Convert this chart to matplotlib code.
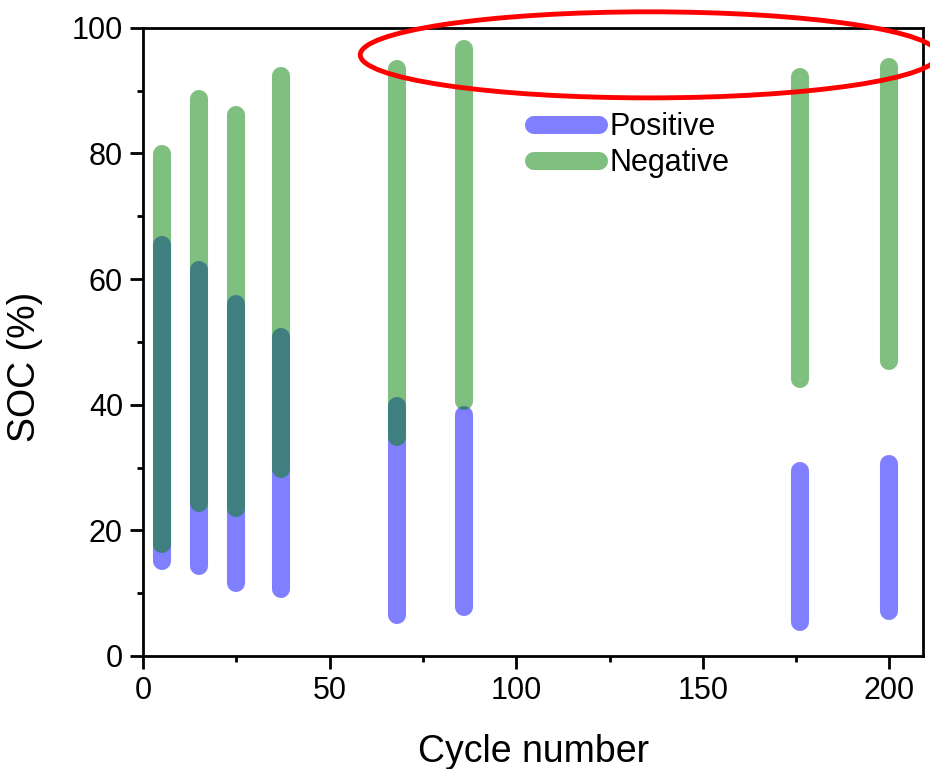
import matplotlib
matplotlib.use("Agg")
import matplotlib.pyplot as plt
from matplotlib.patches import Ellipse
from matplotlib.ticker import MultipleLocator

# Cycle numbers and SOC windows (low / high end of each bar)
cycles = [5, 15, 25, 37, 68, 86, 176, 200]
pos_low = [15.1, 14.3, 11.6, 10.6, 6.6, 7.8, 5.4, 7.1]
pos_high = [65.5, 61.5, 56.0, 50.8, 39.8, 38.3, 29.5, 30.6]
neg_low = [17.8, 24.4, 23.5, 29.8, 34.8, 40.6, 44.1, 47.0]
neg_high = [79.9, 88.6, 86.2, 92.3, 93.5, 96.7, 92.2, 93.8]

plt.rcParams["font.family"] = ["Liberation Sans", "DejaVu Sans"]

fig = plt.figure(figsize=(9.3, 7.69), dpi=100)
ax = fig.add_axes([0.1538, 0.147, 0.8387, 0.8168])

lw = 13
for i, x in enumerate(cycles):
    ax.plot([x, x], [pos_low[i], pos_high[i]], color=(0, 0, 1, 0.5), lw=lw,
            solid_capstyle="round", label="Positive" if i == 0 else None)
for i, x in enumerate(cycles):
    ax.plot([x, x], [neg_low[i], neg_high[i]], color=(0, 0.5, 0, 0.5), lw=lw,
            solid_capstyle="round", label="Negative" if i == 0 else None)

ax.set_xlim(0, 209)
ax.set_ylim(0, 100)
ax.xaxis.set_major_locator(MultipleLocator(50))
ax.xaxis.set_minor_locator(MultipleLocator(25))
ax.yaxis.set_major_locator(MultipleLocator(20))
ax.yaxis.set_minor_locator(MultipleLocator(10))
ax.tick_params(which="both", direction="out", width=2.0, top=False, right=False,
               labelsize=22)
ax.tick_params(which="major", length=9.5, pad=5)
ax.tick_params(which="minor", length=4.5)
for s in ax.spines.values():
    s.set_linewidth(2.0)

ax.set_xlabel("Cycle number", fontsize=27, labelpad=20)
ax.set_ylabel("SOC (%)", fontsize=27)
ax.yaxis.set_label_coords(-0.128, 0.46)

leg = ax.legend(loc="upper left", bbox_to_anchor=(0.485, 0.885), frameon=False,
                fontsize=22, handlelength=2.15, handletextpad=0.35,
                labelspacing=0.2, borderaxespad=0)

# red highlight ring around the top of the later cycles
ring = Ellipse((0.649, 0.957), 0.741, 0.137, transform=ax.transAxes,
               fill=False, edgecolor="red", lw=3.5, clip_on=False, zorder=10)
ax.add_patch(ring)

fig.savefig("out.png", dpi=100)
